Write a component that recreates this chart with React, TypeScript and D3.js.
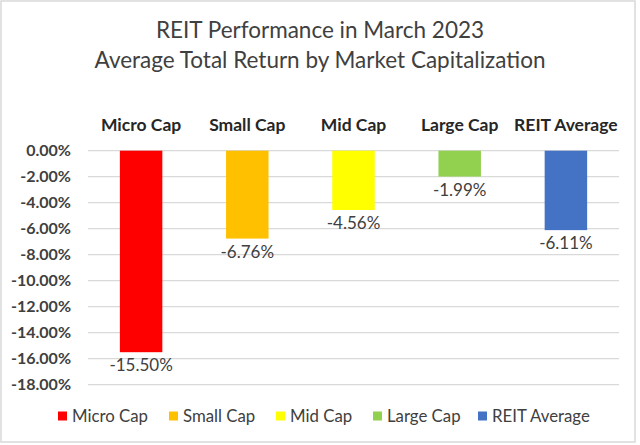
import React from "react";
import * as d3 from "d3";

const categories = ["Micro Cap", "Small Cap", "Mid Cap", "Large Cap", "REIT Average"];
const values = [-15.5, -6.76, -4.56, -1.99, -6.11];
const colors = ["#FF0000", "#FFC000", "#FFFF00", "#92D050", "#4472C4"];
const yTicks = [0, -2, -4, -6, -8, -10, -12, -14, -16, -18];
const titleLines = ["REIT Performance in March 2023", "Average Total Return by Market Capitalization"];

const W = 640;
const H = 445;
const FONT = "Lato, 'Open Sans', sans-serif";
const TEXT = "#404040";
const pct = (v: number) => d3.format(".2f")(v).replace("\u2212", "-") + "%";

export default function App() {
  const x = d3.scaleBand<string>().domain(categories).range([88, 619]).paddingInner(0.6).paddingOuter(0.3);
  const y = d3.scaleLinear().domain([0, -18]).range([150.7, 384.7]);
  const bw = x.bandwidth();

  const legendX = [58, 169, 276, 373, 478];

  return (
    <svg width={W} height={H} style={{ position: "fixed", left: 0, top: 0, background: "#fff" }} fontFamily={FONT}>
      <rect x={1} y={1} width={634} height={441} fill="#fff" stroke="#d9d9d9" strokeWidth={1.5} />
      {titleLines.map((t, i) => (
        <text key={t} x={320} y={30 + i * 30} dy="0.35em" textAnchor="middle" fontSize={22.5} fill={TEXT}>
          {t}
        </text>
      ))}
      {yTicks.map((t) => (
        <g key={t}>
          <line x1={88} x2={619} y1={y(t)} y2={y(t)} stroke="#d9d9d9" strokeWidth={1.3} />
          <text x={71} y={y(t)} dy="0.35em" textAnchor="end" fontSize={16} fontWeight="bold" fill={TEXT}>
            {pct(t)}
          </text>
        </g>
      ))}
      {categories.map((c, i) => {
        const cx = (x(c) as number) + bw / 2;
        return (
          <g key={c}>
            <text x={cx} y={125} dy="0.35em" textAnchor="middle" fontSize={17.5} fontWeight="bold" fill="#262626">
              {c}
            </text>
            <rect x={x(c)} y={y(0)} width={bw} height={y(values[i]) - y(0)} fill={colors[i]} />
            <text x={cx} y={y(values[i]) + 13} dy="0.35em" textAnchor="middle" fontSize={17} fill={TEXT}>
              {pct(values[i])}
            </text>
          </g>
        );
      })}
      {categories.map((c, i) => (
        <g key={"lg" + c}>
          <rect x={legendX[i]} y={411.5} width={9} height={9} fill={colors[i]} />
          <text x={legendX[i] + 14} y={416} dy="0.35em" fontSize={16.8} fill={TEXT}>
            {c}
          </text>
        </g>
      ))}
    </svg>
  );
}
